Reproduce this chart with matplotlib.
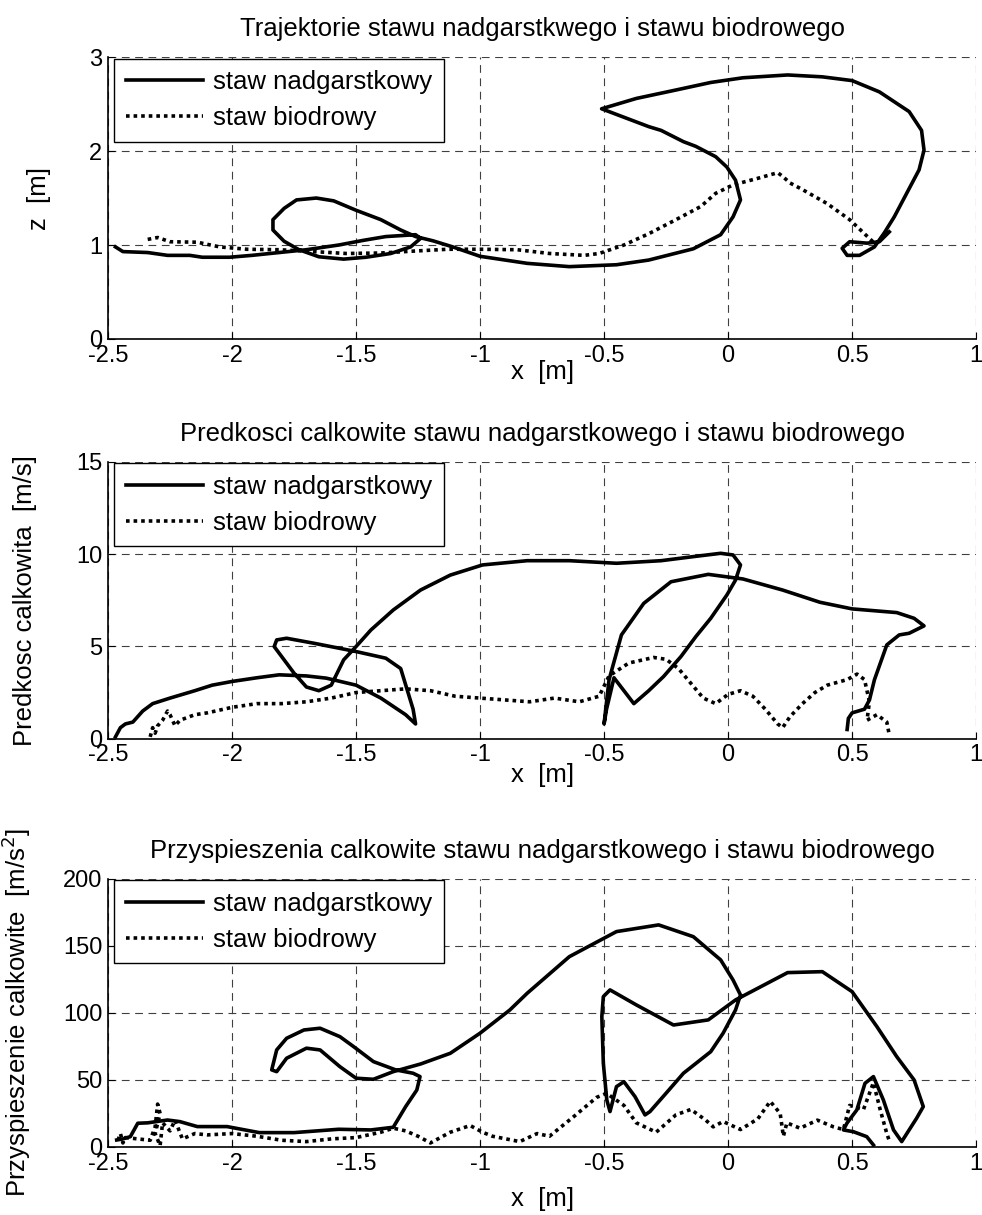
import matplotlib
matplotlib.use("Agg")
import matplotlib.pyplot as plt

plt.rcParams['font.family'] = ['Liberation Sans', 'DejaVu Sans']
plt.rcParams['font.size'] = 17
plt.rcParams['axes.unicode_minus'] = False

# --- trajektorie (x, z) ---
wrist_x = [-2.47, -2.44, -2.34, -2.26, -2.17, -2.12, -2.01, -1.92, -1.81, -1.70, -1.57, -1.47, -1.38, -1.26,
           -1.24, -1.28, -1.36, -1.46, -1.55, -1.65, -1.73, -1.79, -1.835, -1.835, -1.79, -1.74, -1.66, -1.59,
           -1.50, -1.40, -1.32, -1.26, -1.19, -1.11, -1.00, -0.81, -0.64, -0.45, -0.32, -0.14, -0.03, 0.02,
           0.05, 0.03, -0.005, -0.05, -0.13, -0.18, -0.27, -0.32, -0.41, -0.51, -0.37, -0.21, -0.07, 0.06,
           0.24, 0.38, 0.50, 0.61, 0.73, 0.78, 0.79, 0.77, 0.72, 0.67, 0.63, 0.59, 0.53, 0.48, 0.46, 0.49,
           0.56, 0.61, 0.65]
wrist_z = [0.98, 0.93, 0.92, 0.89, 0.89, 0.87, 0.87, 0.89, 0.92, 0.95, 1.00, 1.05, 1.09, 1.11,
           1.07, 0.98, 0.91, 0.87, 0.85, 0.875, 0.95, 1.04, 1.16, 1.27, 1.39, 1.48, 1.50, 1.47,
           1.37, 1.27, 1.16, 1.09, 1.045, 0.98, 0.88, 0.805, 0.77, 0.79, 0.84, 0.96, 1.11, 1.30,
           1.48, 1.69, 1.83, 1.94, 2.05, 2.10, 2.22, 2.26, 2.35, 2.45, 2.56, 2.65, 2.73, 2.78,
           2.81, 2.79, 2.75, 2.63, 2.42, 2.22, 2.01, 1.80, 1.55, 1.30, 1.13, 0.98, 0.89, 0.89, 0.965, 1.035,
           1.02, 1.035, 1.14]
hip_x = [-2.34, -2.30, -2.25, -2.14, -2.05, -1.94, -1.81, -1.67, -1.54, -1.40, -1.27, -1.13, -1.00, -0.85,
         -0.72, -0.58, -0.52, -0.42, -0.32, -0.21, -0.11, -0.05, 0.02, 0.12, 0.20, 0.22, 0.25, 0.30,
         0.40, 0.49, 0.55, 0.59]
hip_z = [1.06, 1.08, 1.035, 1.03, 0.98, 0.955, 0.95, 0.93, 0.91, 0.915, 0.935, 0.955, 0.955, 0.95,
         0.91, 0.89, 0.91, 1.00, 1.12, 1.27, 1.41, 1.55, 1.64, 1.71, 1.77, 1.73, 1.66, 1.59,
         1.44, 1.27, 1.12, 1.02]

# --- predkosci ---
wrist_v_x = [-2.47, -2.45, -2.43, -2.40, -2.36, -2.32, -2.25, -2.15, -2.08, -2.00, -1.90, -1.81, -1.70, -1.62,
             -1.50, -1.40, -1.30, -1.26, -1.27, -1.32, -1.38, -1.50, -1.67, -1.78, -1.82, -1.83, -1.79, -1.75,
             -1.70, -1.65, -1.60, -1.55, -1.50, -1.44, -1.35, -1.24, -1.12, -0.99, -0.81, -0.64, -0.45, -0.27,
             -0.14, -0.03, 0.02, 0.05, 0.03, -0.005, -0.07, -0.13, -0.19, -0.26, -0.32, -0.38, -0.46, -0.49,
             -0.50, -0.48, -0.43, -0.34, -0.23, -0.08, 0.06, 0.22, 0.37, 0.50, 0.68, 0.75, 0.79, 0.73, 0.69,
             0.64, 0.59, 0.57, 0.55, 0.50, 0.485, 0.48]
wrist_v = [0.1, 0.6, 0.8, 0.9, 1.5, 1.9, 2.2, 2.6, 2.9, 3.1, 3.3, 3.46, 3.4, 3.28,
           2.9, 2.2, 1.3, 0.8, 1.6, 3.8, 4.36, 4.72, 5.17, 5.44, 5.35, 4.99, 4.27, 3.55,
           2.8, 2.6, 2.9, 4.27, 4.99, 5.89, 6.97, 8.05, 8.86, 9.41, 9.64, 9.64, 9.50, 9.64,
           9.86, 10.04, 9.95, 9.41, 8.59, 7.78, 6.52, 5.53, 4.45, 3.37, 2.6, 1.9, 3.3, 1.6,
           0.8, 3.19, 5.62, 7.33, 8.50, 8.90, 8.65, 8.05, 7.39, 7.03, 6.83, 6.52, 6.11, 5.71, 5.62,
           5.08, 3.19, 2.1, 1.6, 1.4, 1.1, 0.5]
hip_v_x = [-2.33, -2.32, -2.31, -2.30, -2.28, -2.26, -2.25, -2.23, -2.21, -2.15, -2.10, -2.00, -1.90, -1.80,
           -1.70, -1.60, -1.50, -1.40, -1.30, -1.20, -1.10, -1.00, -0.90, -0.80, -0.70, -0.60, -0.52, -0.48,
           -0.40, -0.30, -0.25, -0.20, -0.15, -0.10, -0.05, 0.00, 0.05, 0.10, 0.15, 0.20, 0.22, 0.25,
           0.30, 0.35, 0.40, 0.48, 0.52, 0.55, 0.57, 0.56, 0.60, 0.62, 0.64, 0.65]
hip_v = [0.1, 0.6, 0.3, 0.7, 1.0, 1.5, 1.3, 0.7, 1.0, 1.3, 1.4, 1.7, 1.9, 1.9,
         2.0, 2.2, 2.5, 2.6, 2.7, 2.6, 2.3, 2.2, 2.1, 2.0, 2.2, 2.0, 2.3, 3.4,
         4.1, 4.4, 4.3, 3.8, 3.0, 2.2, 1.9, 2.4, 2.6, 2.3, 1.6, 0.8, 0.6, 1.2,
         1.9, 2.5, 2.9, 3.2, 3.5, 3.2, 2.0, 1.0, 1.3, 1.1, 0.9, 0.2]

# --- przyspieszenia ---
wrist_a_x = [-2.465, -2.44, -2.41, -2.38, -2.34, -2.26, -2.21, -2.14, -2.02, -1.89, -1.75, -1.57, -1.44, -1.35,
             -1.30, -1.255, -1.242, -1.27, -1.34, -1.43, -1.51, -1.565, -1.645, -1.71, -1.78, -1.82, -1.84, -1.82,
             -1.78, -1.70, -1.645, -1.565, -1.50, -1.43, -1.35, -1.24, -1.12, -1.00, -0.88, -0.81, -0.64, -0.45,
             -0.28, -0.14, -0.03, 0.02, 0.05, 0.03, -0.02, -0.07, -0.18, -0.25, -0.315, -0.335, -0.375, -0.42,
             -0.45, -0.476, -0.489, -0.503, -0.509, -0.503, -0.476, -0.37, -0.22, -0.08, 0.03, 0.24, 0.38, 0.50,
             0.60, 0.68, 0.75, 0.787, 0.76, 0.70, 0.667, 0.626, 0.586, 0.552, 0.519, 0.479, 0.465, 0.505,
             0.559, 0.586]
wrist_a = [5.2, 6.0, 7.7, 17.7, 18.0, 20.1, 18.9, 15.2, 15.2, 10.7, 10.7, 13.2, 12.7, 14.7,
           30.1, 42.5, 52.5, 55.0, 57.5, 63.7, 74.9, 82.3, 88.6, 87.3, 81.1, 72.4, 57.5, 56.2,
           66.2, 73.7, 72.4, 59.9, 51.3, 50.5, 56.2, 61.9, 69.9, 84.9, 102.2, 114.7, 142.0, 160.7,
           165.7, 156.9, 139.6, 124.6, 113.4, 102.2, 84.9, 71.1, 55.0, 40.1, 26.4, 23.9, 37.5, 48.7,
           45.0, 26.4, 35.1, 62.5, 97.3, 112.2, 117.2, 106.0, 91.0, 94.8, 109.7, 130.1, 130.8, 115.9,
           89.8, 67.4, 50.0, 30.1, 21.4, 4.0, 12.7, 35.1, 52.5, 47.5, 27.6, 17.7, 12.7, 11.4,
           7.7, 1.5]
hip_a_x = [-2.46, -2.45, -2.44, -2.43, -2.33, -2.31, -2.30, -2.29, -2.31, -2.29, -2.28, -2.25, -2.23, -2.20,
           -2.15, -2.10, -2.00, -1.90, -1.80, -1.70, -1.60, -1.50, -1.45, -1.40, -1.35, -1.30, -1.25, -1.20,
           -1.12, -1.04, -0.99, -0.95, -0.84, -0.77, -0.72, -0.62, -0.53, -0.49, -0.42, -0.37, -0.29, -0.21,
           -0.15, -0.09, -0.06, -0.02, 0.05, 0.12, 0.17, 0.21, 0.223, 0.237, 0.29, 0.36, 0.425, 0.465,
           0.49, 0.546, 0.586, 0.613, 0.64, 0.653]
hip_a = [5, 10, 3, 7, 5, 15, 32, 25, 10, 1, 18, 12, 20, 6,
         10, 9, 10, 8, 5, 4, 6, 7, 9, 11, 14, 12, 8, 3,
         11, 16, 11, 8, 4, 10, 8, 23, 37, 40, 31, 18, 11, 24,
         28, 20, 15, 19, 13, 21, 34, 25, 8, 18, 14, 20, 15, 13,
         31, 28, 48, 28, 10, 3]

x_ticks = [-2.5, -2, -1.5, -1, -0.5, 0, 0.5, 1]
x_tick_labels = ['-2.5', '-2', '-1.5', '-1', '-0.5', '0', '0.5', '1']
legend_labels = ['staw nadgarstkowy', 'staw biodrowy']

fig = plt.figure(figsize=(9.82, 12.15), dpi=100)
ax1 = fig.add_axes([0.110, 0.721, 0.884, 0.232])
ax2 = fig.add_axes([0.110, 0.392, 0.884, 0.228])
ax3 = fig.add_axes([0.110, 0.056, 0.884, 0.2206])

panels = [
    (ax1, wrist_x, wrist_z, hip_x, hip_z, (0, 3), [0, 1, 2, 3],
     'Trajektorie stawu nadgarstkwego i stawu biodrowego', 'z  [m]', -0.066, -0.075),
    (ax2, wrist_v_x, wrist_v, hip_v_x, hip_v, (0, 15), [0, 5, 10, 15],
     'Predkosci calkowite stawu nadgarstkowego i stawu biodrowego', 'Predkosc calkowita  [m/s]',
     -0.082, -0.087),
    (ax3, wrist_a_x, wrist_a, hip_a_x, hip_a, (0, 200), [0, 50, 100, 150, 200],
     'Przyspieszenia calkowite stawu nadgarstkowego i stawu biodrowego',
     'Przyspieszenie calkowite  [m/s$^2$]', -0.086, -0.149),
]

for ax, wx, wy, hx, hy, ylim, yticks, title, ylabel, ylab_x, xlab_y in panels:
    ax.plot(wx, wy, color='black', lw=2.6, solid_joinstyle='round', label=legend_labels[0])
    ax.plot(hx, hy, color='black', lw=2.6, linestyle=(0, (1, 1.1)), dash_capstyle='butt',
            label=legend_labels[1])
    ax.set_xlim(-2.5, 1)
    ax.set_ylim(*ylim)
    ax.set_xticks(x_ticks)
    ax.set_xticklabels(x_tick_labels)
    ax.set_yticks(yticks)
    ax.grid(True, color='0.25', lw=0.8, linestyle=(0, (7, 5)))
    ax.spines['top'].set_visible(False)
    ax.spines['right'].set_visible(False)
    ax.spines['left'].set_linewidth(1.2)
    ax.spines['bottom'].set_linewidth(1.2)
    ax.tick_params(direction='in', length=5, width=0.8, pad=4, labelsize=17)
    ax.set_title(title, pad=15, fontsize=18.5)
    ax.set_xlabel('x  [m]', fontsize=18.5)
    ax.xaxis.set_label_coords(0.5, xlab_y)
    ax.set_ylabel(ylabel, fontsize=18.5)
    ax.yaxis.set_label_coords(ylab_x, 0.5)
    leg = ax.legend(loc='upper left', bbox_to_anchor=(0.007, 0.995), borderaxespad=0,
                    fancybox=False, framealpha=1, edgecolor='black', handlelength=3.0,
                    handletextpad=0.4, borderpad=0.45, labelspacing=0.47, fontsize=18.5)
    leg.get_frame().set_linewidth(1.0)

fig.savefig('out.png', dpi=100)
